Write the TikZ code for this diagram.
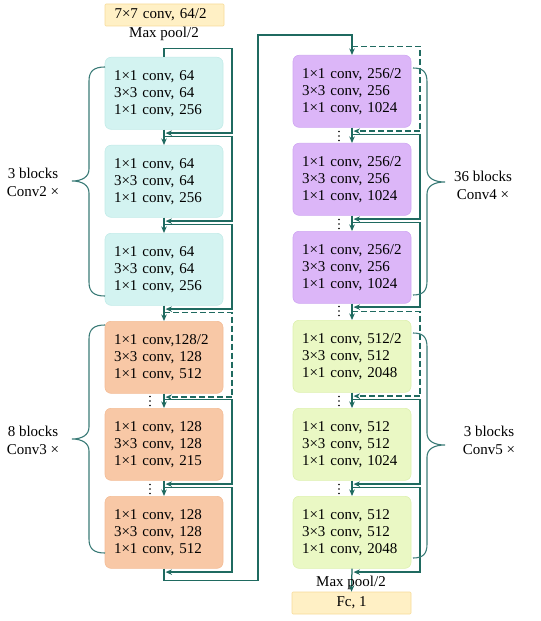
\documentclass[tikz,border=0pt]{standalone}
\usepackage{fontspec}
\setmainfont{Liberation Serif}
\usetikzlibrary{arrows.meta,calc}
\definecolor{lc}{HTML}{1F6A60}
\definecolor{brc}{HTML}{3A7B77}
\definecolor{cyf}{HTML}{D3F3F1}
\definecolor{cyd}{HTML}{C2EBE8}
\definecolor{orf}{HTML}{F8C8A6}
\definecolor{ord}{HTML}{F3BC95}
\definecolor{puf}{HTML}{DCB6F8}
\definecolor{pud}{HTML}{CFA6F2}
\definecolor{grf}{HTML}{EAF8C4}
\definecolor{grd}{HTML}{DDF0AE}
\definecolor{yef}{HTML}{FFF0C5}
\definecolor{yed}{HTML}{F7DB98}
\newcommand\txtfont{\fontsize{15bp}{17bp}\selectfont}
\newcommand\lblfont{\fontsize{15bp}{18bp}\selectfont}
\newcommand\mybracel[3]{\draw[brc,line width=1.1bp] (105,#1) .. controls (94,#1) and (89,{#1+4}) .. (89,{#1+14}) -- (89,{#2-12}) .. controls (89,{#2-4}) and (82,#2) .. (72,#2) .. controls (82,#2) and (89,{#2+4}) .. (89,{#2+12}) -- (89,{#3-14}) .. controls (89,{#3-4}) and (94,#3) .. (105,#3);}
\newcommand\mybracer[3]{\draw[brc,line width=1.1bp] (413,#1) .. controls (423,#1) and (427,{#1+4}) .. (427,{#1+14}) -- (427,{#2-12}) .. controls (427,{#2-4}) and (434,#2) .. (445,#2) .. controls (434,#2) and (427,{#2+4}) .. (427,{#2+12}) -- (427,{#3-14}) .. controls (427,{#3-4}) and (423,#3) .. (413,#3);}
\newcommand\myvdots[2]{\foreach \d in {-4.5,0,4.5} \fill (#1,{#2+\d}) circle (0.95bp);}
\begin{document}
\begin{tikzpicture}[x=1bp,y=-1bp,
  blk/.style={rectangle, rounded corners=6bp, minimum width=118bp, minimum height=72bp,
    inner xsep=9bp, inner ysep=0pt, text width=100bp, align=left, font=\txtfont, anchor=north, line width=0.6bp},
  cyb/.style={blk, fill=cyf, draw=cyd},
  orb/.style={blk, fill=orf, draw=ord},
  pub/.style={blk, fill=puf, draw=pud},
  grb/.style={blk, fill=grf, draw=grd},
  tbox/.style={rectangle, rounded corners=1bp, minimum width=119bp, minimum height=22bp, inner sep=0pt, fill=yef, draw=yed, line width=0.6bp, font=\txtfont},
  plain/.style={inner sep=0pt, font=\txtfont},
  lbl/.style={inner sep=0pt, align=center, font=\lblfont},
  ln/.style={draw=lc, line width=1.25bp},
  arr/.style={ln, -{Stealth[length=6.5bp,width=5.5bp]}},
  darr/.style={arr, dash pattern=on 6bp off 3bp}
]
\useasboundingbox (0,0) rectangle (541,621);

% top
\node[tbox, text width=100bp, inner xsep=9.5bp, align=left] (c1) at (164.5,15) {7×7 conv, 64/2};
\node[plain] (mp1) at (164,34) {Max pool/2};

% left column
\node[cyb] (a1) at (164,57) {1×1 conv, 64\\3×3 conv, 64\\1×1 conv, 256};
\node[cyb] (a2) at (164,145) {1×1 conv, 64\\3×3 conv, 64\\1×1 conv, 256};
\node[cyb] (a3) at (164,233) {1×1 conv, 64\\3×3 conv, 64\\1×1 conv, 256};
\node[orb] (o1) at (164,321) {1×1 conv,128/2\\3×3 conv, 128\\1×1 conv, 512};
\node[orb] (o2) at (164,408) {1×1 conv, 128\\3×3 conv, 128\\1×1 conv, 215};
\node[orb] (o3) at (164,496) {1×1 conv, 128\\3×3 conv, 128\\1×1 conv, 512};

% right column
\node[pub] (p1) at (352,55) {1×1 conv, 256/2\\3×3 conv, 256\\1×1 conv, 1024};
\node[pub] (p2) at (352,143) {1×1 conv, 256/2\\3×3 conv, 256\\1×1 conv, 1024};
\node[pub] (p3) at (352,231) {1×1 conv, 256/2\\3×3 conv, 256\\1×1 conv, 1024};
\node[grb] (g1) at (352,320) {1×1 conv, 512/2\\3×3 conv, 512\\1×1 conv, 2048};
\node[grb] (g2) at (352,408) {1×1 conv, 512\\3×3 conv, 512\\1×1 conv, 1024};
\node[grb] (g3) at (352,496) {1×1 conv, 512\\3×3 conv, 512\\1×1 conv, 2048};

\node[tbox] (fc) at (351.5,603) {Fc, 1};

% main line
\draw[ln] ($(a1.north)+(0,-9)$) -- (a1.north);
\draw[arr] (a1.south) -- (a2.north);
\draw[arr] (a2.south) -- (a3.north);
\draw[arr] (a3.south) -- (o1.north);
\draw[arr] (o1.south) -- (o2.north);
\draw[arr] (o2.south) -- (o3.north);
\coordinate (turn) at (258,35);
\draw[arr] (o3.south) -- ++(0,12) -| (turn) -| (p1.north);
\draw[arr] (p1.south) -- (p2.north);
\draw[arr] (p2.south) -- (p3.north);
\draw[arr] (p3.south) -- (g1.north);
\draw[arr] (g1.south) -- (g2.north);
\draw[arr] (g2.south) -- (g3.north);
\draw[arr] (g3.south) -- (fc.north);
\node[plain] (mp2) at (351,583) {Max pool/2};

% skip connections
\foreach \b in {a1,a2,a3,o2,o3,p2,p3,g2,g3}
  \draw[arr] ($(\b.north)+(0,-8.5)$) -- ++(68,0) |- ($(\b.south)+(1.5,3.5)$);
\foreach \b in {o1,p1,g1}
  \draw[darr] ($(\b.north)+(0,-8.5)$) -- ++(68,0) |- ($(\b.south)+(1.5,3.5)$);

% dots
\myvdots{150}{401}
\myvdots{150}{489}
\myvdots{339}{136}
\myvdots{339}{224}
\myvdots{339}{311}
\myvdots{339}{401}
\myvdots{339}{489}

% braces
\mybracel{67}{181}{296}
\mybracel{325}{439}{553}
\mybracer{68}{182}{295}
\mybracer{333}{445}{558}

\node[lbl] (l2) at (33,182) {3 blocks\\Conv2 ×};
\node[lbl] (l3) at (33,440) {8 blocks\\Conv3 ×};
\node[lbl] (l4) at (483,185) {36 blocks\\Conv4 ×};
\node[lbl] (l5) at (489,440) {3 blocks\\Conv5 ×};
\end{tikzpicture}
\end{document}
